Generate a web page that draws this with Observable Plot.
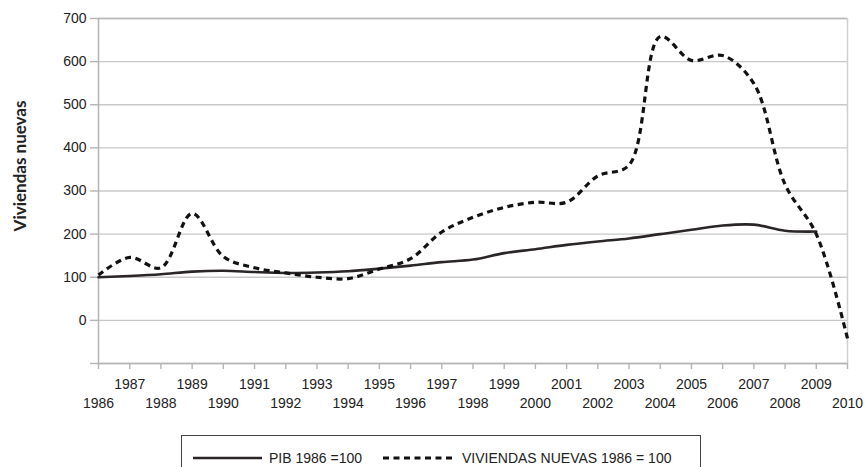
<!DOCTYPE html>
<html>
<head>
<meta charset="utf-8">
<script src="https://cdn.jsdelivr.net/npm/d3@7"></script>
<script src="https://cdn.jsdelivr.net/npm/@observablehq/plot@0.6"></script>
<style>
  html, body { margin: 0; padding: 0; background: #fff; }
  #wrap { position: relative; width: 866px; height: 467px; overflow: hidden; font-family: "Liberation Sans", Arial, sans-serif; }
  #legend { position: absolute; left: 181px; top: 435px; width: 520px; height: 40px; border: 1px solid #444; box-sizing: border-box; }
  #legend svg { position: absolute; left: 0; top: 0; }
</style>
</head>
<body>
<div id="wrap"><div id="chart"></div><div id="legend"></div></div>
<script>
const years = d3.range(1986, 2011);
const pibYears = d3.range(1986, 2010);
const pib = [100, 103, 107, 113, 115, 112, 110, 111, 114, 120, 127, 135, 141, 156, 165, 175, 183, 190, 200, 210, 220, 222, 208, 206];
const viviendas = [105, 146, 122, 248, 148, 122, 110, 100, 97, 119, 143, 205, 239, 262, 274, 274, 335, 360, 658, 603, 614, 549, 315, 200, -42];
const yTicks = [-100, 0, 100, 200, 300, 400, 500, 600, 700];
const oddYears = years.filter(y => y % 2 === 1);
const evenYears = years.filter(y => y % 2 === 0);
const yLabel = "Viviendas nuevas";
const legendLabels = ["PIB 1986 =100", "VIVIENDAS NUEVAS 1986 = 100"];

const pibData = pibYears.map((y, i) => ({year: y, value: pib[i]}));
const vivData = years.map((y, i) => ({year: y, value: viviendas[i]}));

const grid = "#c8c8c8";
const axisC = "#b4b4b4";

const chart = Plot.plot({
  width: 866,
  height: 430,
  marginLeft: 98,
  marginRight: 19,
  marginTop: 18,
  marginBottom: 67,
  style: {fontFamily: "'Liberation Sans', Arial, sans-serif", fontSize: "14px", color: "#222", background: "#fff"},
  x: {type: "linear", domain: [1986, 2010], axis: null},
  y: {domain: [-100, 700], axis: null},
  marks: [
    Plot.gridY(yTicks, {stroke: grid, strokeOpacity: 1, strokeWidth: 1.4}),
    Plot.ruleX([2010], {stroke: "#cfcfcf", strokeWidth: 1.5}),
    Plot.ruleY([700], {stroke: "#b8bcb8", strokeWidth: 1.4}),
    Plot.ruleX([1986], {stroke: axisC, strokeWidth: 1.5, y1: -100, y2: 700}),
    Plot.ruleY([-100], {stroke: axisC, strokeWidth: 1.5}),
    Plot.axisY(yTicks, {anchor: "left", tickSize: 8, tickPadding: 4, stroke: axisC, strokeWidth: 1.4, fontSize: 14, fill: "#222",
      tickFormat: d => d < 0 ? "" : String(d), label: null}),
    Plot.axisX(years, {anchor: "bottom", tickSize: 6, stroke: axisC, strokeWidth: 1.4, tickFormat: () => "", label: null}),
    Plot.axisX(oddYears, {anchor: "bottom", tickSize: 0, tickPadding: 16, fontSize: 14, fill: "#222", tickFormat: d => String(d), label: null}),
    Plot.axisX(evenYears, {anchor: "bottom", tickSize: 0, tickPadding: 35, fontSize: 14, fill: "#222", tickFormat: d => String(d), label: null}),
    Plot.text([yLabel], {frameAnchor: "left", dx: -78, dy: -25, rotate: -90, fontWeight: "bold", fontSize: 17, fontFamily: "Lato, 'Open Sans', sans-serif", fill: "#222", textAnchor: "middle"}),
    Plot.line(pibData, {x: "year", y: "value", curve: "catmull-rom", stroke: "#2a2627", strokeWidth: 2.6}),
    Plot.line(vivData, {x: "year", y: "value", curve: "catmull-rom", stroke: "#111", strokeWidth: 3.2, strokeDasharray: "6,4.5", strokeLinecap: "butt"})
  ]
});
document.getElementById("chart").appendChild(chart);

// Legend (HTML/SVG below the chart)
const lg = d3.select("#legend").append("svg").attr("width", 520).attr("height", 40);
lg.append("line").attr("x1", 11).attr("x2", 80).attr("y1", 22).attr("y2", 22).attr("stroke", "#2a2627").attr("stroke-width", 2.6);
lg.append("text").attr("x", 87).attr("y", 27).attr("font-size", 14).attr("fill", "#222").attr("font-family", "'Liberation Sans', Arial, sans-serif").text(legendLabels[0]);
lg.append("line").attr("x1", 201).attr("x2", 270).attr("y1", 22).attr("y2", 22).attr("stroke", "#111").attr("stroke-width", 3.2).attr("stroke-dasharray", "6,4.5");
lg.append("text").attr("x", 280).attr("y", 27).attr("font-size", 14).attr("fill", "#222").attr("font-family", "'Liberation Sans', Arial, sans-serif").text(legendLabels[1]);
</script>
</body>
</html>
